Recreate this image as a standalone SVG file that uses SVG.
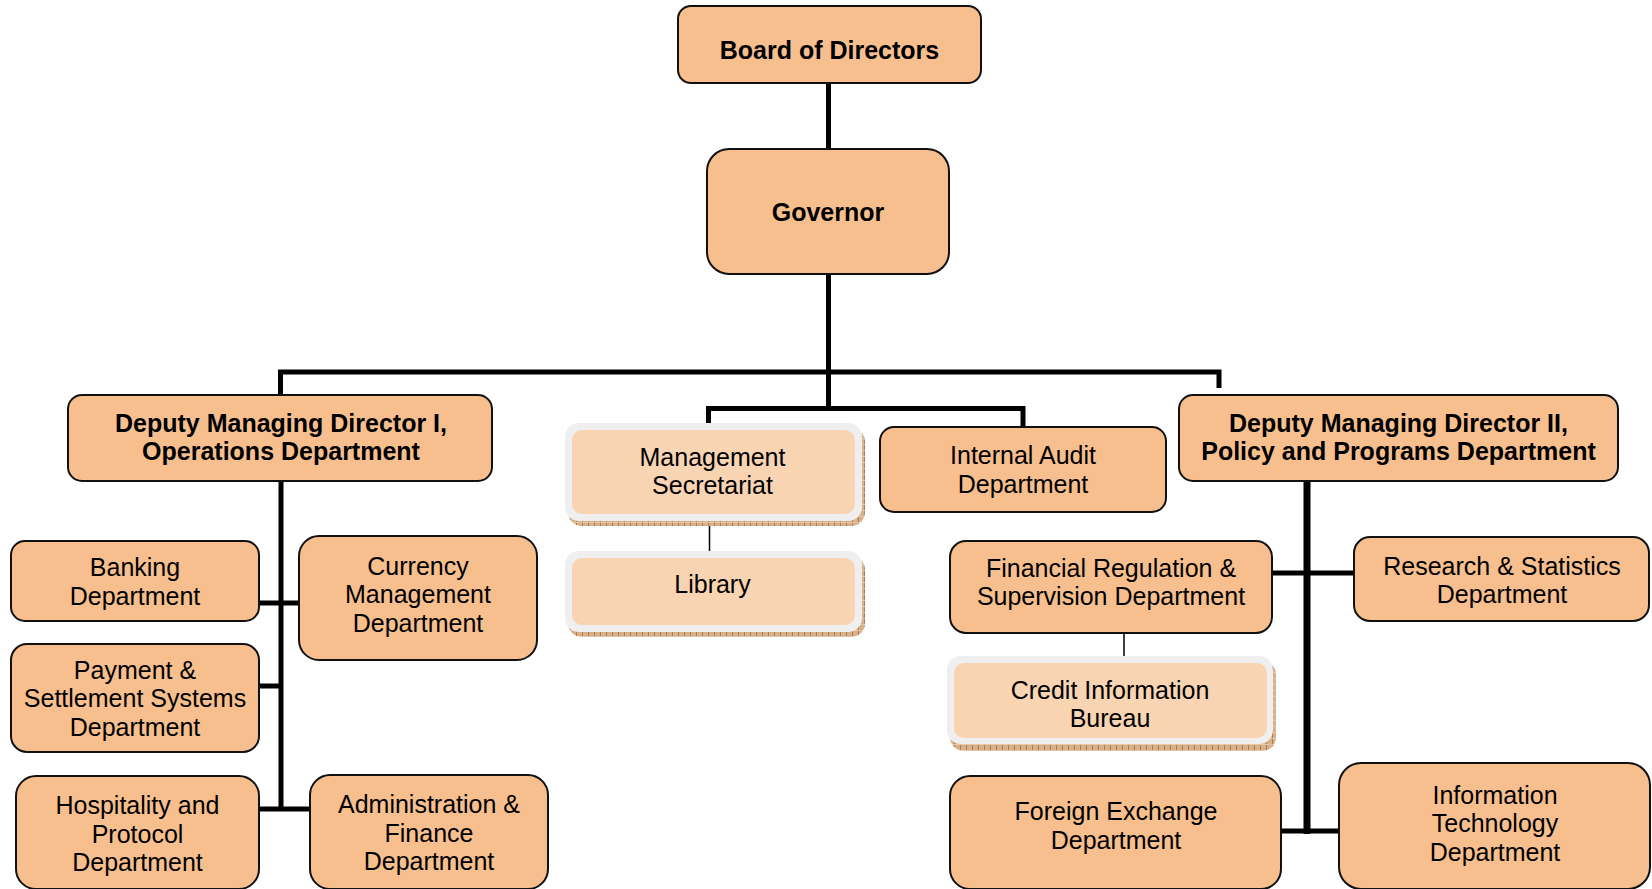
<svg xmlns="http://www.w3.org/2000/svg" width="1652" height="889" viewBox="0 0 1652 889">
<style>
.box{fill:#F8BF8E;stroke:#111;stroke-width:2}
.lo{fill:#EFEFEF}
.li{fill:#F9D4B3}
.t{font-family:"Liberation Sans",Arial,sans-serif;font-size:25px;fill:#000;text-anchor:middle}
.b{font-weight:bold}
.c{stroke:#000;fill:none;stroke-width:5}
.thin{stroke:#000;fill:none;stroke-width:1.5}
</style>
<defs>
<pattern id="sh" width="6" height="6" patternUnits="userSpaceOnUse">
<rect width="6" height="6" fill="#D8B08A"/>
<line x1="0.5" y1="0" x2="0.5" y2="6" stroke="#B07A50" stroke-width="1"/>
<line x1="0" y1="0.5" x2="6" y2="0.5" stroke="#E6C8A8" stroke-width="1"/>
</pattern>
</defs>

<g id="connectors">
<path class="c" d="M828.5 82V149M828.5 274V410"/>
<path class="c" d="M280.5 395V372H1219V388"/>
<path class="c" d="M708.5 424V408.5H1023V427"/>
<path class="c" d="M281 481V811"/>
<path class="c" d="M259 603H299M259 686H281M259 809H310"/>
<path class="c" d="M1307 481V834" style="stroke-width:7"/>
<path class="c" d="M1272 573H1354M1281 831H1339"/>
<path class="thin" d="M709.5 520V551M1124 633V656"/>
</g>

<g id="board">
<rect class="box" x="678" y="6" width="303" height="77" rx="13"/>
<text class="t b" x="829.5" y="59">Board of Directors</text>
</g>
<g id="governor">
<rect class="box" x="707" y="149" width="242" height="125" rx="22"/>
<text class="t b" x="828" y="221">Governor</text>
</g>
<g id="dmd1">
<rect class="box" x="68" y="395" width="424" height="86" rx="14"/>
<text class="t b" x="281" y="432">Deputy Managing Director I,</text>
<text class="t b" x="281" y="459.5">Operations Department</text>
</g>
<g id="dmd2">
<rect class="box" x="1179" y="395" width="439" height="86" rx="14"/>
<text class="t b" x="1398.5" y="432">Deputy Managing Director II,</text>
<text class="t b" x="1398.5" y="459.5">Policy and Programs Department</text>
</g>
<g id="mgmt-sec">
<rect x="568" y="428" width="297" height="98" rx="14" fill="url(#sh)"/>
<rect class="lo" x="565" y="423" width="297" height="98" rx="14"/>
<rect class="li" x="572" y="430" width="283" height="84" rx="10"/>
<text class="t" x="712.5" y="466">Management</text>
<text class="t" x="712.5" y="494">Secretariat</text>
</g>
<g id="library">
<rect x="568" y="556" width="297" height="81" rx="14" fill="url(#sh)"/>
<rect class="lo" x="565" y="551" width="297" height="81" rx="14"/>
<rect class="li" x="572" y="558" width="283" height="67" rx="10"/>
<text class="t" x="712.5" y="593">Library</text>
</g>
<g id="internal-audit">
<rect class="box" x="880" y="427" width="286" height="85" rx="14"/>
<text class="t" x="1023" y="464">Internal Audit</text>
<text class="t" x="1023" y="492.5">Department</text>
</g>
<g id="banking">
<rect class="box" x="11" y="541" width="248" height="80" rx="14"/>
<text class="t" x="135" y="576">Banking</text>
<text class="t" x="135" y="604.5">Department</text>
</g>
<g id="currency">
<rect class="box" x="299" y="536" width="238" height="124" rx="20"/>
<text class="t" x="418" y="574.5">Currency</text>
<text class="t" x="418" y="603">Management</text>
<text class="t" x="418" y="631.5">Department</text>
</g>
<g id="payment">
<rect class="box" x="11" y="644" width="248" height="108" rx="16"/>
<text class="t" x="135" y="678.5">Payment &amp;</text>
<text class="t" x="135" y="707">Settlement Systems</text>
<text class="t" x="135" y="735.5">Department</text>
</g>
<g id="hospitality">
<rect class="box" x="16" y="776" width="243" height="113" rx="20"/>
<text class="t" x="137.5" y="814">Hospitality and</text>
<text class="t" x="137.5" y="842.5">Protocol</text>
<text class="t" x="137.5" y="871">Department</text>
</g>
<g id="admin-finance">
<rect class="box" x="310" y="775" width="238" height="114" rx="20"/>
<text class="t" x="429" y="813">Administration &amp;</text>
<text class="t" x="429" y="841.5">Finance</text>
<text class="t" x="429" y="870">Department</text>
</g>
<g id="fin-reg">
<rect class="box" x="950" y="541" width="322" height="92" rx="16"/>
<text class="t" x="1111" y="577">Financial Regulation &amp;</text>
<text class="t" x="1111" y="605">Supervision Department</text>
</g>
<g id="credit-info">
<rect x="950" y="661" width="326" height="90" rx="14" fill="url(#sh)"/>
<rect class="lo" x="947" y="656" width="326" height="88" rx="14"/>
<rect class="li" x="954" y="663" width="313" height="75" rx="10"/>
<text class="t" x="1110" y="698.5">Credit Information</text>
<text class="t" x="1110" y="727">Bureau</text>
</g>
<g id="research">
<rect class="box" x="1354" y="537" width="295" height="84" rx="16"/>
<text class="t" x="1502" y="574.5">Research &amp; Statistics</text>
<text class="t" x="1502" y="603">Department</text>
</g>
<g id="forex">
<rect class="box" x="950" y="776" width="331" height="113" rx="20"/>
<text class="t" x="1116" y="820">Foreign Exchange</text>
<text class="t" x="1116" y="848.5">Department</text>
</g>
<g id="it">
<rect class="box" x="1339" y="763" width="311" height="126" rx="22"/>
<text class="t" x="1495" y="803.5">Information</text>
<text class="t" x="1495" y="832">Technology</text>
<text class="t" x="1495" y="860.5">Department</text>
</g>
</svg>
